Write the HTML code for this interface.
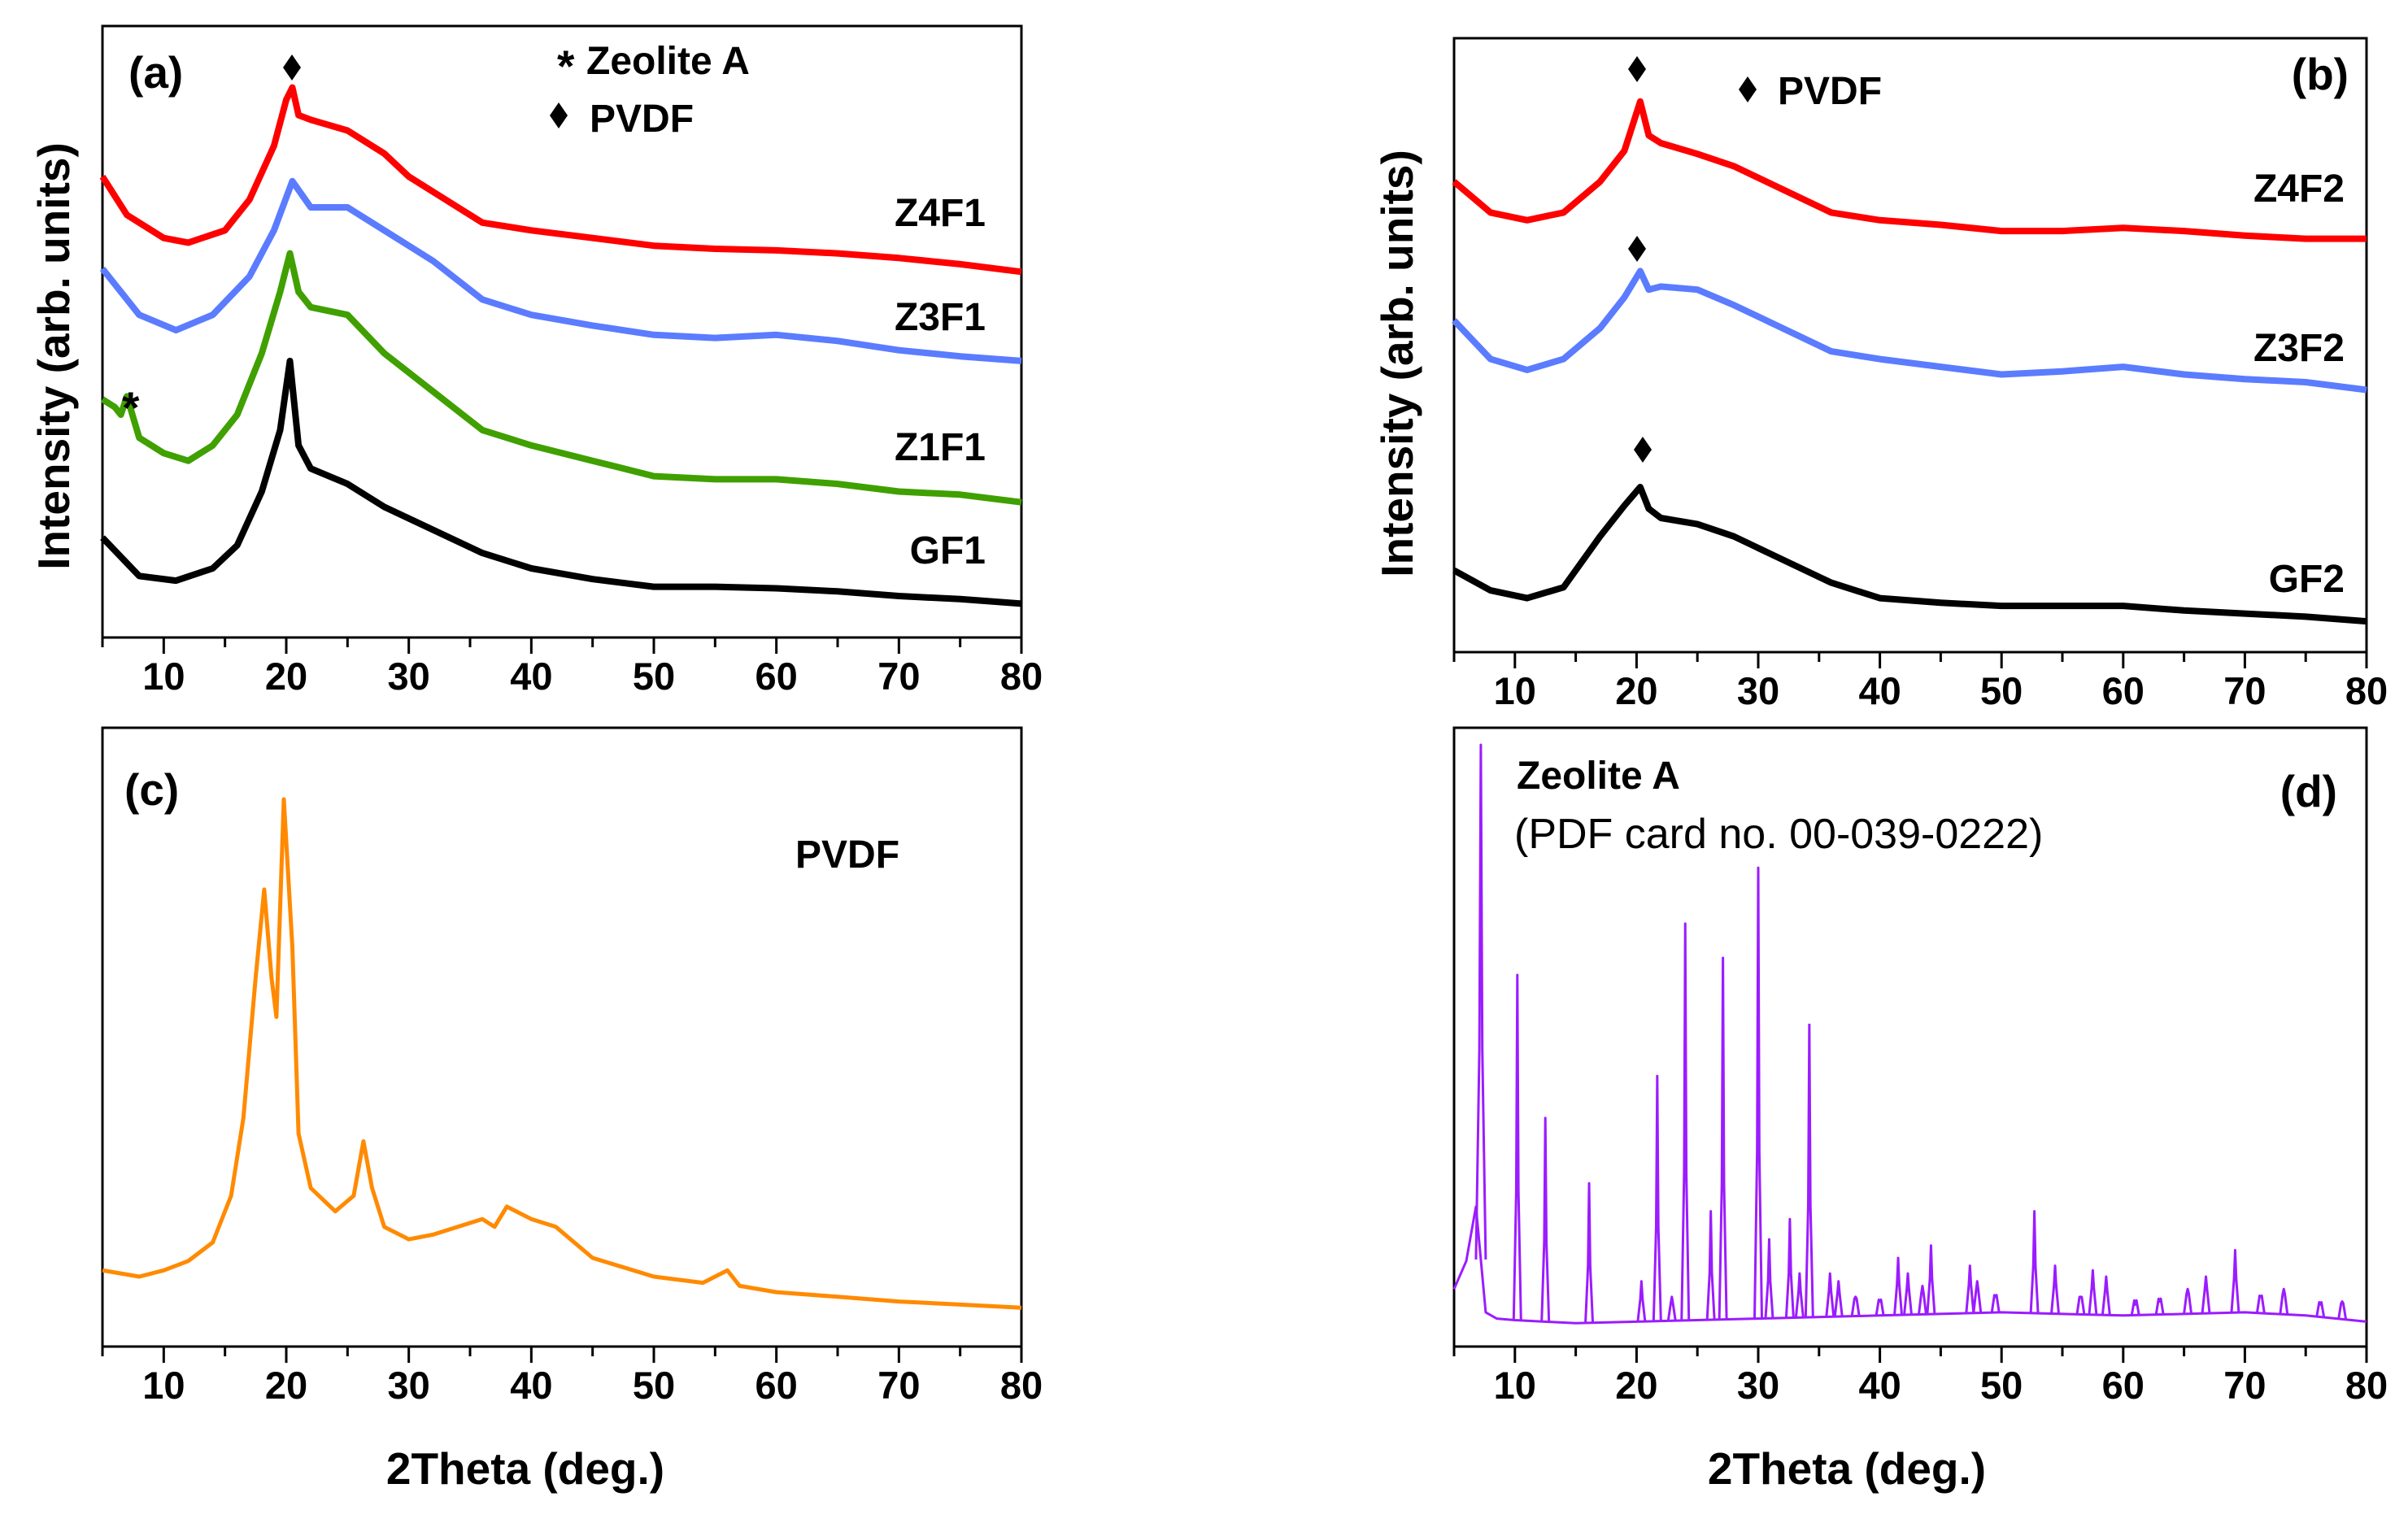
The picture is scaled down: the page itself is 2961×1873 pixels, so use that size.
<!DOCTYPE html>
<html><head><meta charset="utf-8">
<style>
html,body{margin:0;padding:0;background:#fff;}
svg{display:block;font-family:"Liberation Sans",Arial,sans-serif;}
.tick{font-weight:bold;font-size:47px;}
.ttl{font-weight:bold;font-size:55px;}
.lab{font-weight:bold;font-size:48px;}
.norm{font-weight:normal;font-size:52px;}
</style></head>
<body>
<svg id="fig" width="2961" height="1873" viewBox="0 0 2961 1873" xmlns="http://www.w3.org/2000/svg"></svg>
<script>
// ---- data (intensity in arbitrary units, 0 = axis bottom, 398 = axis top) ----
const xTicks = [10,20,30,40,50,60,70,80];
const tickLabels = ["10","20","30","40","50","60","70","80"];

const aX   = [5,7,10,12,15,17,19,20,20.5,21,22,25,28,30,33,36,40,45,50,55,60,65,70,75,80];
const z4f1 = [300,275,260,257,265,285,320,350,358,340,337,330,315,300,285,270,265,260,255,253,252,250,247,243,238];
const z3f1X = [5,8,11,14,17,19,20.5,22,25,28,32,36,40,45,50,55,60,65,70,75,80];
const z3f1  = [240,210,200,210,235,265,297,280,280,265,245,220,210,203,197,195,197,193,187,183,180];
const z1f1X = [5,6,6.5,7,8,10,12,14,16,18,19.5,20.3,21,22,25,28,32,36,40,45,50,55,60,65,70,75,80];
const z1f1  = [155,150,145,157,130,120,115,125,145,185,225,250,225,215,210,185,160,135,125,115,105,103,103,100,95,93,88];
const gf1X = [5,8,11,14,16,18,19.5,20.3,21,22,25,28,32,36,40,45,50,55,60,65,70,75,80];
const gf1  = [65,40,37,45,60,95,135,180,125,110,100,85,70,55,45,38,33,33,32,30,27,25,22];

const bX   = [5,8,11,14,17,19,20.3,21,22,25,28,32,36,40,45,50,55,60,65,70,75,80];
const z4f2 = [305,285,280,285,305,325,357,335,330,323,315,300,285,280,277,273,273,275,273,270,268,268];
const z3f2 = [215,190,183,190,210,230,247,235,237,235,225,210,195,190,185,180,182,185,180,177,175,170];
const gf2  = [53,40,35,42,75,95,107,93,87,83,75,60,45,35,32,30,30,30,27,25,23,20];

const cX   = [5,8,10,12,14,15.5,16.5,17.5,18.2,18.8,19.2,19.8,20.5,21,22,24,25.5,26.3,27,28,30,32,34,36,37,38,40,42,45,50,54,56,57,60,65,70,75,80];
const pvdf = [49,45,49,55,67,97,147,237,294,237,212,352,257,137,102,87,97,132,102,77,69,72,77,82,77,90,82,77,57,45,41,49,39,35,32,29,27,25];

const dBaseX = [5,6,6.8,7.6,8.5,10,15,20,30,40,50,60,70,75,80];
const dBase  = [37,55,90,22,18,17,15,16,18,20,22,20,22,20,16];
const dPeakPos = [7.2,10.2,12.5,16.1,20.4,21.7,22.9,24.0,26.1,27.1,30.0,30.9,32.6,33.4,34.2,35.9,36.6,38,40,41.5,42.3,43.5,44.2,47.4,48,49.5,52.7,54.4,56.5,57.5,58.6,61,63,65.3,66.8,69.2,71.3,73.2,76.2,78];
const dPeakH   = [387,239,147,105,42,174,32,272,87,250,308,69,82,47,207,47,42,32,29,57,47,39,65,52,42,32,87,52,32,49,45,27,29,37,45,62,32,37,27,29];

// ---- layout ----
const svg = document.getElementById('fig');
const NS = 'http://www.w3.org/2000/svg';
function mk(tag, attrs, parent){const e=document.createElementNS(NS,tag);for(const k in attrs)e.setAttribute(k,attrs[k]);(parent||svg).appendChild(e);return e;}

function makePanel(name, L, R, T, B){
  const g = mk('g',{});
  
  
  const sx = v => L + (v-5)/75*(R-L);
  const sy = v => B - v/398*(B-T);
  const frame = mk('rect',{x:L,y:T,width:R-L,height:B-T,fill:'none',stroke:'#000','stroke-width':3},g);
  
  
  for(let t=5;t<=80;t+=5){
    const major = t%10===0;
    const tk = mk('line',{x1:sx(t),x2:sx(t),y1:B,y2:B+(major?20:12),stroke:'#000','stroke-width':3},g);
    
    
  }
  xTicks.forEach((t,i)=>{
    const tx = mk('text',{x:sx(t),y:B+64,'text-anchor':'middle',class:'tick'},g);
    tx.textContent = tickLabels[i];
    
    
  });
  return {g,sx,sy};
}
function line(p, xs, ys, color, w, nm){
  const d = xs.map((x,i)=>(i?'L':'M')+p.sx(x).toFixed(1)+','+p.sy(ys[i]).toFixed(1)).join('');
  const e = mk('path',{d,fill:'none',stroke:color,'stroke-width':w,'stroke-linejoin':'round'},p.g);
  
  
}
function txt(x,y,s,cls,nm,anchor,extra){
  const e = mk('text',Object.assign({x,y,class:cls,'text-anchor':anchor||'start'},extra||{}));
  e.textContent = s;
  
  
  return e;
}
function diamond(x,y,nm){
  const e = mk('polygon',{points:`${x},${y-16} ${x+11},${y} ${x},${y+16} ${x-11},${y}`,fill:'#000'});
  
  
}

// Panel a
const pa = makePanel('panel-a',126,1256,32,784);
line(pa,aX,z4f1,'#ff0000',8,'series-z4f1');
line(pa,z3f1X,z3f1,'#5b7cff',8,'series-z3f1');
line(pa,z1f1X,z1f1,'#3fa000',8,'series-z1f1');
line(pa,gf1X,gf1,'#000',8,'series-gf1');
txt(158,108,'(a)','ttl','panel-a-label');
diamond(359,83,'pvdf-marker-a');
txt(685,100,'*','ttl','zeolite-legend-star');
txt(721,91,'Zeolite A','lab','legend-zeolite-a');
diamond(687,142,'legend-pvdf-diamond-a');
txt(725,162,'PVDF','lab','legend-pvdf-a');
txt(150,520,'*','ttl','zeolite-peak-star');
txt(1212,278,'Z4F1','lab','label-z4f1','end');
txt(1212,406,'Z3F1','lab','label-z3f1','end');
txt(1212,566,'Z1F1','lab','label-z1f1','end');
txt(1212,693,'GF1','lab','label-gf1','end');
txt(0,0,'Intensity (arb. units)','ttl','y-axis-title-a','middle',{transform:'translate(85,438) rotate(-90)'});

// Panel b
const pb = makePanel('panel-b',1788,2910,47,802);
line(pb,bX,z4f2,'#ff0000',8,'series-z4f2');
line(pb,bX,z3f2,'#5b7cff',8,'series-z3f2');
line(pb,bX,gf2,'#000',8,'series-gf2');
diamond(2013,85,'pvdf-marker-z4f2');
diamond(2013,306,'pvdf-marker-z3f2');
diamond(2020,553,'pvdf-marker-gf2');
diamond(2149,110,'legend-pvdf-diamond-b');
txt(2186,128,'PVDF','lab','legend-pvdf-b');
txt(2888,110,'(b)','ttl','panel-b-label','end');
txt(2883,248,'Z4F2','lab','label-z4f2','end');
txt(2883,444,'Z3F2','lab','label-z3f2','end');
txt(2883,728,'GF2','lab','label-gf2','end');
txt(0,0,'Intensity (arb. units)','ttl','y-axis-title-b','middle',{transform:'translate(1737,447) rotate(-90)'});

// Panel c
const pc = makePanel('panel-c',126,1256,895,1656);
line(pc,cX,pvdf,'#ff8a00',5,'series-pvdf');
txt(153,990,'(c)','ttl','panel-c-label');
txt(978,1067,'PVDF','lab','label-pvdf');
txt(646,1825,'2Theta (deg.)','ttl','x-axis-title-c','middle');

// Panel d
const pd = makePanel('panel-d',1788,2910,895,1656);
line(pd,dBaseX,dBase,'#9b1cff',3,'series-zeolite-baseline');
function baseAt(x){for(let i=1;i<dBaseX.length;i++){if(x<=dBaseX[i]){const f=(x-dBaseX[i-1])/(dBaseX[i]-dBaseX[i-1]);return dBase[i-1]+f*(dBase[i]-dBase[i-1]);}}return dBase[dBase.length-1];}
dPeakPos.forEach((p,i)=>{
  const w = i===0?0.4:0.3;
  const b = baseAt(p);
  const d = `M${pd.sx(p-w)},${pd.sy(b)}L${pd.sx(p-w*0.3)},${pd.sy(b+dPeakH[i]*0.35)}L${pd.sx(p)},${pd.sy(dPeakH[i])}L${pd.sx(p+w*0.3)},${pd.sy(b+dPeakH[i]*0.35)}L${pd.sx(p+w)},${pd.sy(b)}`;
  const e = mk('path',{d,fill:'none',stroke:'#9b1cff','stroke-width':3,'stroke-linejoin':'round'},pd.g);
  
  
});
txt(1865,970,'Zeolite A','lab','label-zeolite-a');
txt(1862,1043,'(PDF card no. 00-039-0222)','norm','label-pdf-card');
txt(2874,992,'(d)','ttl','panel-d-label','end');
txt(2271,1825,'2Theta (deg.)','ttl','x-axis-title-d','middle');
</script>
</body></html>
